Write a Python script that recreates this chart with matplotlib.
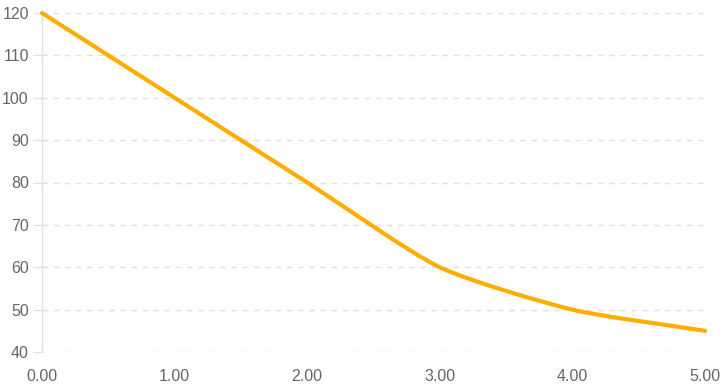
import numpy as np
import matplotlib
matplotlib.use('Agg')
import matplotlib.pyplot as plt
from matplotlib.path import Path
from matplotlib.patches import PathPatch

# Data
x_vals = [0, 1, 2, 3, 4, 5]
y_vals = [120, 100, 80, 60, 50, 45]
x_ticks = [0, 1, 2, 3, 4, 5]
y_ticks = [40, 50, 60, 70, 80, 90, 100, 110, 120]

plt.rcParams['font.family'] = ['Liberation Sans', 'DejaVu Sans']

fig = plt.figure(figsize=(7.26, 3.87), dpi=100)
ax = fig.add_axes([42 / 726, 35 / 387, 663 / 726, 339 / 387])
ax.set_xlim(0, 5)
ax.set_ylim(40, 120)

# Smooth curve (spline with low tension), computed in pixel space
pts = ax.transData.transform(np.column_stack([x_vals, y_vals]))
t = 0.22
cps = []
for i in range(len(pts)):
    prev = pts[max(i - 1, 0)]
    cur = pts[i]
    nxt = pts[min(i + 1, len(pts) - 1)]
    d01 = np.hypot(*(cur - prev))
    d12 = np.hypot(*(nxt - cur))
    tot = d01 + d12
    s01 = d01 / tot if tot else 0
    s12 = d12 / tot if tot else 0
    cp1 = cur - t * s01 * (nxt - prev)
    cp2 = cur + t * s12 * (nxt - prev)
    cps.append((cp1, cp2))

verts = [pts[0]]
codes = [Path.MOVETO]
for i in range(1, len(pts)):
    verts += [cps[i - 1][1], cps[i][0], pts[i]]
    codes += [Path.CURVE4] * 3
verts = ax.transData.inverted().transform(np.array(verts))
ax.add_patch(PathPatch(Path(verts, codes), fill=False, edgecolor='#FFAD00',
                       lw=3, capstyle='round', joinstyle='round', zorder=3,
                       clip_on=False))

# Axes styling
for s in ['top', 'right', 'bottom']:
    ax.spines[s].set_visible(False)
ax.spines['left'].set_color('#e0e0e0')
ax.spines['left'].set_linewidth(1)

ax.set_yticks(y_ticks)
ax.set_yticklabels([str(v) for v in y_ticks])
ax.set_xticks(x_ticks)
ax.set_xticklabels(['%.2f' % v for v in x_ticks])
ax.yaxis.grid(True, color='#e0e0e0', linestyle=(0, (4, 4)), linewidth=1)
ax.set_axisbelow(True)
ax.tick_params(axis='y', length=6.5, color='#e0e0e0', labelcolor='#666666',
               labelsize=11.5, pad=3)
ax.tick_params(axis='x', length=0, labelcolor='#666666', labelsize=11.5, pad=12)

fig.savefig('out.png', dpi=100)
